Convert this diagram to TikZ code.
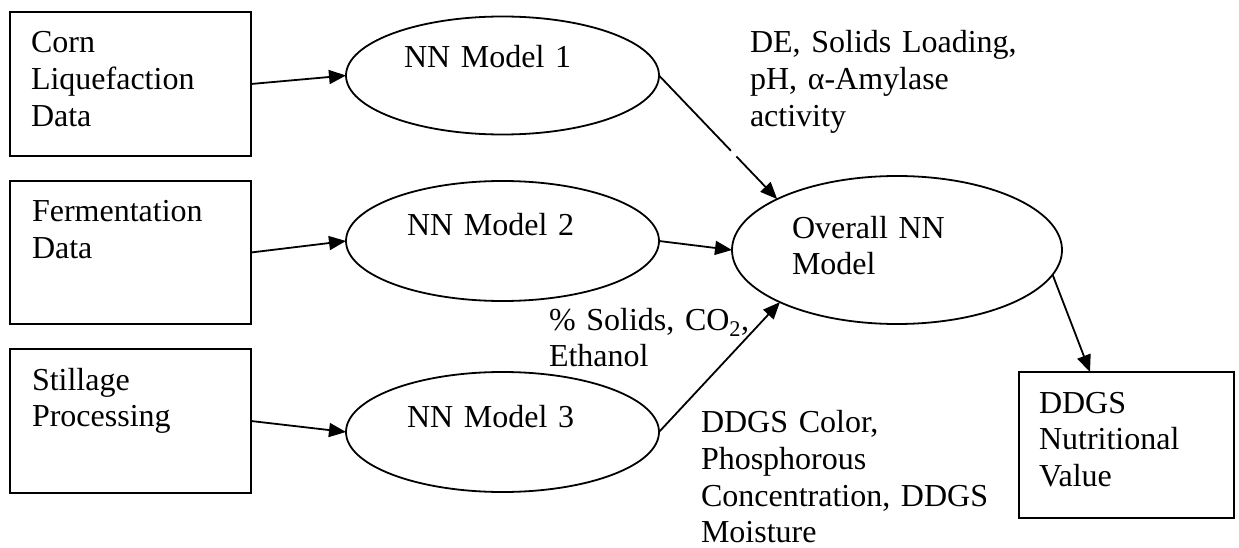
\documentclass[tikz,border=0pt]{standalone}
\usepackage{fontspec}
\setmainfont{Liberation Serif}
\usetikzlibrary{arrows.meta,shapes.geometric}
\begin{document}
\begin{tikzpicture}[x=1pt,y=-1pt,
  every node/.style={inner sep=0pt, outer sep=0pt},
  box/.style={draw, line width=1.8pt, rectangle, anchor=north west},
  ell/.style={draw, line width=1.8pt, ellipse},
  txt/.style={font=\fontsize{32}{36.8}\selectfont, text width=300pt, align=left, anchor=base west},
  arr/.style={line width=1.8pt, -{Triangle[length=17pt,width=14pt]}}]
\useasboundingbox (0,0) rectangle (1239,548);
% boxes
\node[box, minimum width=241pt, minimum height=144pt] (b1) at (10,12) {};
\node[box, minimum width=241pt, minimum height=143pt] (b2) at (10,181) {};
\node[box, minimum width=241pt, minimum height=144pt] (b3) at (10,349) {};
\node[box, minimum width=215pt, minimum height=146pt] (b4) at (1019,372) {};
% ellipses
\node[ell, minimum width=313pt, minimum height=118pt] (e1) at (502.5,75.5) {};
\node[ell, minimum width=313pt, minimum height=120pt] (e2) at (502.5,241) {};
\node[ell, minimum width=313pt, minimum height=120pt] (e3) at (502.5,432) {};
\node[ell, minimum width=330pt, minimum height=148pt] (ov) at (897,250) {};
% texts
\node[txt] (t1) at (31,53) {Corn\\Liquefaction\\Data};
\node[txt] (t2) at (32,222) {Fermentation\\Data};
\node[txt] (t3) at (32,390) {Stillage\\Processing};
\node[txt] (t4) at (404,68) {NN Model 1};
\node[txt] (t5) at (407,235) {NN Model 2};
\node[txt] (t6) at (407,427) {NN Model 3};
\node[txt] (t7) at (792,238) {Overall NN\\Model};
\node[txt] (t8) at (1039,413) {DDGS\\Nutritional\\Value};
\node[txt] (t9) at (750,53) {DE, Solids Loading,\\pH, α-Amylase\\activity};
\node[txt] (t10) at (549,330) {\% Solids, CO\textsubscript{2},\\Ethanol};
\node[txt] (t11) at (701,432.5) {DDGS Color,\\Phosphorous\\Concentration, DDGS\\Moisture};
% connectors
\draw[arr] (b1.east) -- (e1.west);
\draw[arr] (b2.east) -- (e2.west);
\draw[arr] (b3.east) -- (e3.west);
\draw[arr, dash pattern=on 104pt off 8pt on 400pt] (e1.east) -- (ov.157);
\draw[arr] (e2.east) -- (ov.west);
\draw[arr] (e3.east) -- (ov.204);
\draw[arr] (ov.-9) -- ([xshift=71pt]b4.north west);
\end{tikzpicture}
\end{document}
